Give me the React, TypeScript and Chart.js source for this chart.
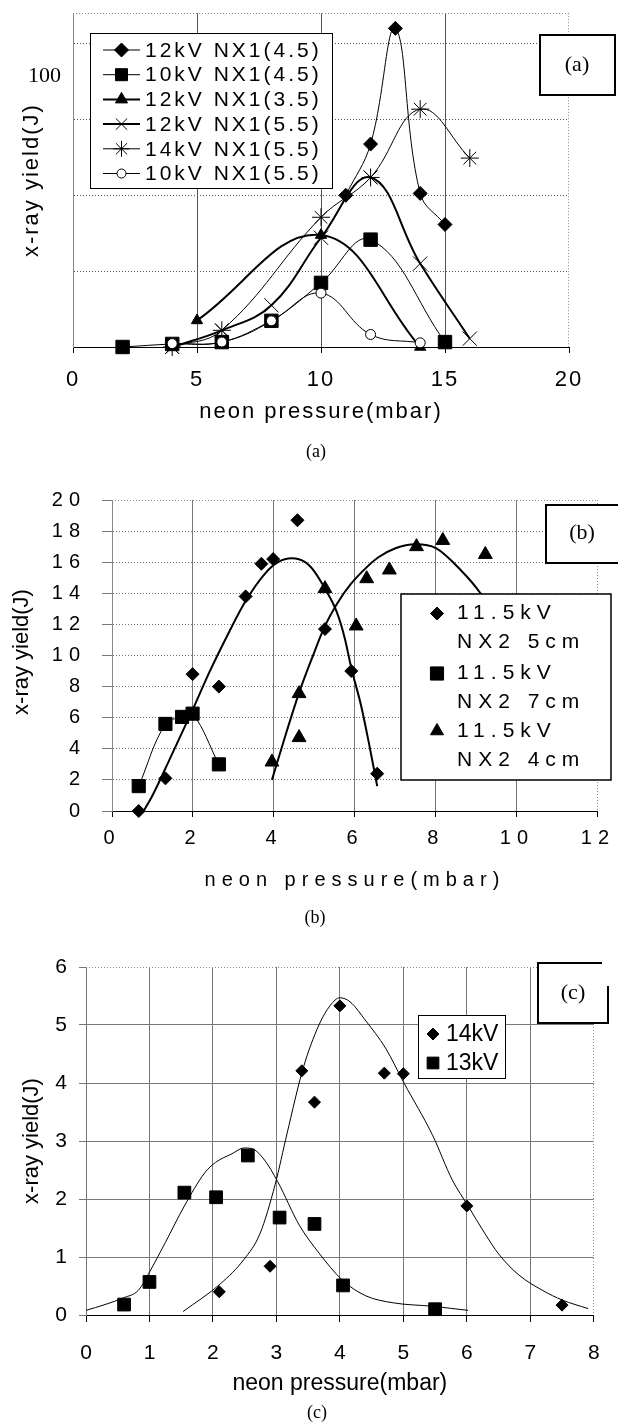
import React, { useEffect, useRef } from 'react';
import { Chart, registerables } from 'chart.js';
import { drawPoint } from 'chart.js/helpers';

Chart.register(...registerables);

const SANS = '"Liberation Sans", Arial, sans-serif';
const SERIF = '"Liberation Serif", "Times New Roman", serif';
const W = 618;

// ---------------- Panel (a) data ----------------
const A_LABELS = ['12kV NX1(4.5)', '10kV NX1(4.5)', '12kV NX1(3.5)', '12kV NX1(5.5)', '14kV NX1(5.5)', '10kV NX1(5.5)'];
const A_P_12KV_45 = [11, 12, 13, 14, 15];
const A_Y_12KV_45 = [40, 53.5, 84, 40.5, 32.3];
const A_P_10KV_45 = [2, 4, 6, 8, 10, 12, 15];
const A_Y_10KV_45 = [0, 0.8, 1.3, 6.9, 16.9, 28.3, 1.3];
const A_P_12KV_35 = [5, 10, 14];
const A_Y_12KV_35 = [7, 29.5, 0];
const A_P_12KV_55 = [4, 6, 8, 10, 12, 14, 16];
const A_Y_12KV_55 = [0, 4.4, 11, 28.8, 44.7, 22, 2.2];
const A_P_14KV_55 = [4, 6, 10, 12, 14, 16];
const A_Y_14KV_55 = [0, 4.4, 34.2, 44.7, 62.7, 49.8];
const A_P_10KV_55 = [4, 6, 8, 10, 12, 14];
const A_Y_10KV_55 = [0.9, 1.3, 6.9, 14.2, 3.3, 1.1];
const A_Y_TEXT = '100';

// ---------------- Panel (b) data ----------------
const B_LABELS = [['11.5kV', 'NX2 5cm'], ['11.5kV', 'NX2 7cm'], ['11.5kV', 'NX2 4cm']];
const B_P_5CM = [0.66, 1.32, 1.99, 2.64, 3.3, 3.69, 3.98, 4.58, 5.26, 5.91, 6.55];
const B_Y_5CM = [0, 2.1, 8.8, 8.0, 13.8, 15.9, 16.2, 18.7, 11.7, 9.0, 2.4];
const B_P_7CM = [0.66, 1.32, 1.73, 1.99, 2.64];
const B_Y_7CM = [1.6, 5.6, 6.05, 6.26, 3.0];
const B_P_4CM = [3.95, 4.62, 4.62, 5.26, 6.03, 6.29, 6.85, 7.52, 8.17, 9.22];
const B_Y_4CM = [3.15, 7.55, 4.72, 14.3, 11.9, 14.94, 15.5, 17.0, 17.4, 16.5];
const B_FIT5_P = [0.78, 1.0, 1.42, 1.99, 2.4, 2.89, 3.3, 3.79, 4.1, 4.44, 4.77, 5.0, 5.26, 5.55, 5.75, 5.91, 6.15, 6.35, 6.55];
const B_FIT5_Y = [0, 1.0, 3.3, 6.5, 8.9, 11.5, 13.5, 15.3, 16.0, 16.25, 16.0, 15.4, 14.3, 12.8, 11.1, 9.2, 6.8, 4.3, 1.6];
const B_FIT4_P = [3.95, 4.3, 4.62, 4.95, 5.26, 5.55, 5.9, 6.3, 6.57, 7.0, 7.5, 8.0, 8.61, 9.1, 9.5];
const B_FIT4_Y = [2.0, 5.0, 7.6, 9.9, 11.9, 13.3, 14.6, 15.7, 16.3, 16.9, 17.15, 16.9, 15.5, 14.0, 12.2];

// ---------------- Panel (c) data ----------------
const C_LABELS = ['14kV', '13kV'];
const C_P_14KV = [2.1, 2.9, 3.4, 3.6, 4.0, 4.7, 5.0, 6.0, 7.5];
const C_Y_14KV = [0.4, 0.84, 4.21, 3.67, 5.33, 4.17, 4.16, 1.88, 0.17];
const C_P_13KV = [0.6, 1.0, 1.55, 2.05, 2.55, 3.05, 3.6, 4.05, 5.5];
const C_Y_13KV = [0.18, 0.57, 2.11, 2.03, 2.75, 1.68, 1.57, 0.51, 0.1];
const C_FIT13_P = [0, 0.3, 0.6, 0.82, 0.99, 1.25, 1.55, 1.87, 2.04, 2.3, 2.49, 2.61, 2.8, 3.02, 3.36, 3.67, 4.04, 4.41, 4.84, 5.46, 6.02];
const C_FIT13_Y = [0.08, 0.18, 0.3, 0.42, 0.72, 1.25, 1.88, 2.45, 2.63, 2.78, 2.88, 2.87, 2.69, 2.3, 1.55, 1.07, 0.6, 0.33, 0.21, 0.15, 0.08];
const C_FIT14_P = [1.53, 2.12, 2.49, 2.74, 2.98, 3.17, 3.42, 3.67, 3.85, 4.0, 4.16, 4.41, 4.72, 5.01, 5.46, 5.77, 6.02, 6.27, 6.51, 6.82, 7.2, 7.5, 7.91];
const C_FIT14_Y = [0.06, 0.54, 0.96, 1.4, 2.25, 3.14, 4.25, 5.0, 5.34, 5.47, 5.4, 5.07, 4.6, 4.0, 3.1, 2.33, 1.88, 1.43, 1.04, 0.69, 0.42, 0.26, 0.11];

const X_TITLE = 'neon pressure(mbar)';
const Y_TITLE = 'x-ray yield(J)';

// ---------------- helpers ----------------
function pts(xs: number[], ys: number[]) {
  return xs.map((x, i) => ({ x, y: ys[i] }));
}

function series(label: string, xs: number[], ys: number[], style: any, radius: number, fill: string, lineWidth: number, showLine: boolean, extra: any = {}) {
  return {
    label,
    data: pts(xs, ys),
    showLine,
    borderColor: '#000',
    borderWidth: lineWidth,
    pointStyle: style,
    pointRadius: radius,
    pointBackgroundColor: fill,
    pointBorderColor: '#000',
    pointBorderWidth: 1,
    tension: 0.4,
    clip: false,
    ...extra,
  };
}

function fitLine(label: string, xs: number[], ys: number[], width: number) {
  return {
    label,
    data: pts(xs, ys),
    showLine: true,
    borderColor: '#000',
    borderWidth: width,
    pointRadius: 0,
    cubicInterpolationMode: 'monotone',
    clip: false,
    order: 5,
  };
}

function gridColor(col: string) {
  return (c: any) => {
    const t = c.tick;
    const s = c.scale;
    if (!t || !s) return col;
    if (t.value === s.max || t.value === s.min) return 'rgba(0,0,0,0)';
    return col;
  };
}

function frame(chart: any) {
  const { ctx, chartArea } = chart;
  const { left, right, top, bottom } = chartArea;
  ctx.save();
  ctx.strokeStyle = '#8a8a8a';
  ctx.lineWidth = 1;
  ctx.setLineDash([1, 2]);
  ctx.beginPath();
  ctx.moveTo(left, Math.round(top) + 0.5);
  ctx.lineTo(right, Math.round(top) + 0.5);
  ctx.moveTo(Math.round(right) - 0.5, top);
  ctx.lineTo(Math.round(right) - 0.5, bottom);
  ctx.stroke();
  ctx.restore();
}

function txt(ctx: any, s: string, x: number, y: number, font: string, align = 'left', spacing = '0px') {
  ctx.font = font;
  ctx.letterSpacing = spacing;
  ctx.textAlign = align;
  ctx.textBaseline = 'middle';
  ctx.fillStyle = '#000';
  ctx.fillText(s, x, y);
}

function rectBox(ctx: any, x1: number, y1: number, x2: number, y2: number, lw: number) {
  ctx.fillStyle = '#fff';
  ctx.fillRect(x1, y1, x2 - x1, y2 - y1);
  ctx.strokeStyle = '#000';
  ctx.lineWidth = lw;
  ctx.setLineDash([]);
  ctx.strokeRect(x1, y1, x2 - x1, y2 - y1);
}

function marker(ctx: any, ds: any, x: number, y: number, radius: number) {
  ctx.save();
  ctx.setLineDash([]);
  ctx.fillStyle = ds.pointBackgroundColor;
  ctx.strokeStyle = '#000';
  ctx.lineWidth = 1;
  drawPoint(ctx, { pointStyle: ds.pointStyle, rotation: 0, radius, borderWidth: 1 }, x, y);
  ctx.restore();
}

function extrasPlugin(spacing: string, extra: (chart: any) => void) {
  return {
    id: 'extras',
    beforeDraw(chart: any) {
      chart.ctx.letterSpacing = spacing;
    },
    beforeDatasetsDraw(chart: any) {
      frame(chart);
    },
    afterDraw(chart: any) {
      const ctx = chart.ctx;
      ctx.save();
      ctx.letterSpacing = '0px';
      extra(chart);
      ctx.restore();
      ctx.letterSpacing = spacing;
    },
  };
}

function axis(opts: any) {
  const { min, max, step, fontSize, tickLen, pad, tickColor, grid, border, title, fit, hideLabels } = opts;
  return {
    type: 'linear',
    min,
    max,
    afterFit: fit,
    ticks: {
      stepSize: step,
      autoSkip: false,
      maxRotation: 0,
      color: '#000',
      font: { family: SANS, size: fontSize },
      padding: pad,
      callback: hideLabels ? () => '' : (v: any) => String(v),
    },
    grid: {
      color: gridColor(grid),
      lineWidth: 1,
      drawTicks: tickLen > 0,
      tickLength: tickLen,
      tickColor,
    },
    border,
    title,
  };
}

// ---------------- Panel configs ----------------
function configA() {
  const H = 470, L = 73, R = 569, T = 13, B = 347, PB = 30;
  const datasets = [
    series(A_LABELS[0], A_P_12KV_45, A_Y_12KV_45, 'rectRot', 7, '#000', 1, true, { order: 2 }),
    series(A_LABELS[1], A_P_10KV_45, A_Y_10KV_45, 'rect', 9.5, '#000', 1, true, { order: 3 }),
    series(A_LABELS[2], A_P_12KV_35, A_Y_12KV_35, 'triangle', 6.5, '#000', 2, true, { order: 4 }),
    series(A_LABELS[3], A_P_12KV_55, A_Y_12KV_55, 'crossRot', 10, '#000', 2, true, { order: 1 }),
    series(A_LABELS[4], A_P_14KV_55, A_Y_14KV_55, 'star', 9, '#000', 1, true, { order: 0 }),
    series(A_LABELS[5], A_P_10KV_55, A_Y_10KV_55, 'circle', 5, '#fff', 1, true, { order: -1 }),
  ];
  const legendR = [7, 8.5, 7, 8, 8, 4.5];
  const extra = (chart: any) => {
    const ctx = chart.ctx;
    txt(ctx, A_Y_TEXT, 61, 76, `22px ${SERIF}`, 'right');
    rectBox(ctx, 90.5, 33.5, 332.5, 188.5, 1);
    chart.data.datasets.forEach((ds: any, i: number) => {
      const y = 50 + i * 24.7;
      ctx.save();
      ctx.strokeStyle = '#000';
      ctx.lineWidth = ds.borderWidth;
      ctx.beginPath();
      ctx.moveTo(103, y);
      ctx.lineTo(140, y);
      ctx.stroke();
      ctx.restore();
      marker(ctx, ds, 121.5, y, legendR[i]);
      txt(ctx, ds.label, 145, y + 1, `21px ${SANS}`, 'left', '3px');
    });
    rectBox(ctx, 540, 35, 615, 95, 2);
    txt(ctx, '(a)', 577, 65, `22px ${SERIF}`, 'center');
    txt(ctx, '(a)', 316, 452, `18px ${SERIF}`, 'center');
  };
  return {
    type: 'line',
    data: { datasets },
    options: {
      animation: false,
      responsive: false,
      maintainAspectRatio: false,
      events: [],
      layout: { padding: { left: 0, top: T, right: W - R, bottom: PB } },
      plugins: { legend: { display: false }, tooltip: { enabled: false } },
      scales: {
        x: axis({
          min: 0, max: 20, step: 5, fontSize: 22, tickLen: 6, pad: 13.8, tickColor: '#000', grid: '#555',
          border: { color: '#000', width: 1 },
          fit: (s: any) => { s.height = H - PB - B; },
          title: { display: true, text: X_TITLE, color: '#000', font: { family: SANS, size: 22 }, padding: { top: 0, bottom: 15 } },
        }),
        y: axis({
          min: 0, max: 88, step: 20, fontSize: 22, tickLen: 0, pad: 0, tickColor: '#555', grid: '#555', hideLabels: true,
          border: { color: '#888', width: 1, dash: [1, 2] },
          fit: (s: any) => { s.width = L; },
          title: { display: true, text: Y_TITLE, color: '#000', font: { family: SANS, size: 22 }, padding: { top: 19, bottom: 0 } },
        }),
      },
    },
    plugins: [extrasPlugin('2px', extra)],
  };
}

function configB() {
  const H = 460, L = 112, R = 601, T = 30, B = 341, PB = 30;
  const datasets = [
    series(B_LABELS[0].join(' '), B_P_5CM, B_Y_5CM, 'rectRot', 6.5, '#000', 1, false, { order: 1 }),
    series(B_LABELS[1].join(' '), B_P_7CM, B_Y_7CM, 'rect', 9.3, '#000', 1, true, { order: 0 }),
    series(B_LABELS[2].join(' '), B_P_4CM, B_Y_4CM, 'triangle', 8, '#000', 1, false, { order: 2 }),
    fitLine('fit 5cm', B_FIT5_P, B_FIT5_Y, 2),
    fitLine('fit 4cm', B_FIT4_P, B_FIT4_Y, 2),
  ];
  const legendR = [6.5, 9.3, 7.5];
  const extra = (chart: any) => {
    const ctx = chart.ctx;
    ctx.save();
    ctx.translate(22, 182);
    ctx.rotate(-Math.PI / 2);
    txt(ctx, Y_TITLE, 0, 0, `22px ${SANS}`, 'center');
    ctx.restore();
    rectBox(ctx, 401, 124, 611, 310, 1.5);
    B_LABELS.forEach((lines, i) => {
      const ds = chart.data.datasets[i];
      const y1 = [143.5, 203.5, 261][i];
      marker(ctx, ds, 437, y1, legendR[i]);
      txt(ctx, lines[0], 457, y1, `21px ${SANS}`, 'left', '6px');
      txt(ctx, lines[1], 457, y1 + 29, `21px ${SANS}`, 'left', '6px');
    });
    rectBox(ctx, 546, 35, 625, 93, 2);
    txt(ctx, '(b)', 582, 63, `22px ${SERIF}`, 'center');
    txt(ctx, '(b)', 315, 448, `18px ${SERIF}`, 'center');
  };
  return {
    type: 'line',
    data: { datasets },
    options: {
      animation: false,
      responsive: false,
      maintainAspectRatio: false,
      events: [],
      layout: { padding: { left: 0, top: T, right: W - R, bottom: PB } },
      plugins: { legend: { display: false }, tooltip: { enabled: false } },
      scales: {
        x: axis({
          min: 0, max: 12, step: 2, fontSize: 20, tickLen: 6, pad: 9, tickColor: '#000', grid: '#777',
          border: { color: '#000', width: 1 },
          fit: (s: any) => { s.height = H - PB - B; },
          title: { display: true, text: X_TITLE, color: '#000', font: { family: SANS, size: 20 }, padding: { top: 0, bottom: 8 } },
        }),
        y: axis({
          min: 0, max: 20, step: 2, fontSize: 20, tickLen: 10, pad: 16, tickColor: '#777', grid: '#777',
          border: { color: '#888', width: 1, dash: [1, 2] },
          fit: (s: any) => { s.width = L; },
          title: { display: false },
        }),
      },
    },
    plugins: [extrasPlugin('6px', extra)],
  };
}

function configC() {
  const H = 498, L = 86, R = 597, T = 37, B = 385, PB = 25;
  const datasets = [
    series(C_LABELS[0], C_P_14KV, C_Y_14KV, 'rectRot', 6, '#000', 1, false, { order: 0 }),
    series(C_LABELS[1], C_P_13KV, C_Y_13KV, 'rect', 9, '#000', 1, false, { order: 1 }),
    fitLine('fit 14kV', C_FIT14_P, C_FIT14_Y, 1),
    fitLine('fit 13kV', C_FIT13_P, C_FIT13_Y, 1),
  ];
  const legendR = [6, 8.3];
  const extra = (chart: any) => {
    const ctx = chart.ctx;
    rectBox(ctx, 418.5, 85.5, 505.5, 148.5, 1);
    C_LABELS.forEach((lab, i) => {
      const y = [104, 133][i];
      marker(ctx, chart.data.datasets[i], 433, y, legendR[i]);
      txt(ctx, lab, 446, y + 1, `23px ${SANS}`, 'left');
    });
    ctx.fillStyle = '#fff';
    ctx.fillRect(538, 33, 70, 60);
    ctx.strokeStyle = '#000';
    ctx.lineWidth = 2;
    ctx.setLineDash([]);
    ctx.beginPath();
    ctx.moveTo(602, 33);
    ctx.lineTo(538, 33);
    ctx.lineTo(538, 93);
    ctx.lineTo(608, 93);
    ctx.lineTo(608, 56);
    ctx.stroke();
    txt(ctx, '(c)', 573, 63, `22px ${SERIF}`, 'center');
    txt(ctx, '(c)', 317, 483, `18px ${SERIF}`, 'center');
  };
  return {
    type: 'line',
    data: { datasets },
    options: {
      animation: false,
      responsive: false,
      maintainAspectRatio: false,
      events: [],
      layout: { padding: { left: 0, top: T, right: W - R, bottom: PB } },
      plugins: { legend: { display: false }, tooltip: { enabled: false } },
      scales: {
        x: axis({
          min: 0, max: 8, step: 1, fontSize: 21, tickLen: 7, pad: 18.4, tickColor: '#000', grid: '#777',
          border: { color: '#000', width: 1 },
          fit: (s: any) => { s.height = H - PB - B; },
          title: { display: true, text: X_TITLE, color: '#000', font: { family: SANS, size: 23 }, padding: { top: 0, bottom: 5.2 } },
        }),
        y: axis({
          min: 0, max: 6, step: 1, fontSize: 21, tickLen: 7, pad: 12, tickColor: '#777', grid: '#777',
          border: { color: '#777', width: 1 },
          fit: (s: any) => { s.width = L; },
          title: { display: true, text: Y_TITLE, color: '#000', font: { family: SANS, size: 22 }, padding: { top: 18.8, bottom: 0 } },
        }),
      },
    },
    plugins: [extrasPlugin('0px', extra)],
  };
}

function Panel({ top, height, make }: { top: number; height: number; make: () => any }) {
  const ref = useRef<HTMLCanvasElement>(null);
  useEffect(() => {
    const chart = new Chart(ref.current as HTMLCanvasElement, make());
    return () => chart.destroy();
  }, []);
  return (
    <canvas
      ref={ref}
      width={W}
      height={height}
      style={{ position: 'absolute', left: 0, top, width: W, height }}
    />
  );
}

export default function App() {
  return (
    <div style={{ position: 'absolute', left: 0, top: 0, width: W, height: 1428, background: '#fff', overflow: 'hidden' }}>
      <Panel top={0} height={470} make={configA} />
      <Panel top={470} height={460} make={configB} />
      <Panel top={930} height={498} make={configC} />
    </div>
  );
}
